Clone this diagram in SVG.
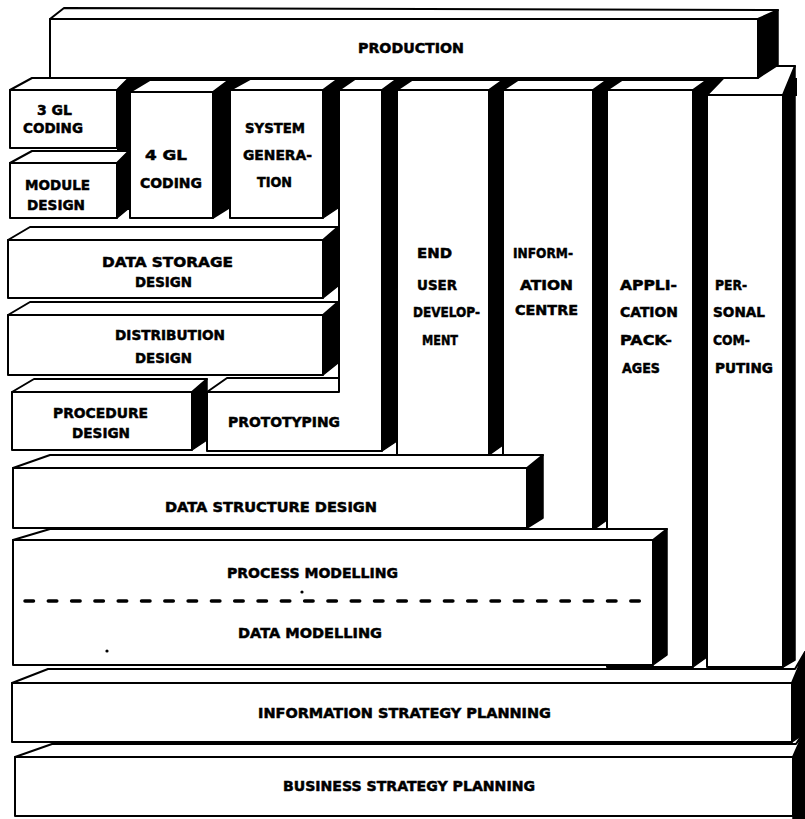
<svg xmlns="http://www.w3.org/2000/svg" width="805" height="819" viewBox="0 0 805 819">
  <style>
    .face { fill: #fff; stroke: #000; stroke-width: 2; stroke-linejoin: round; }
    .side { fill: #000; stroke: #000; stroke-width: 1.5; stroke-linejoin: round; }
    .gap { fill: #000; }
    .lbl { font-family: "DejaVu Sans", "Liberation Sans", sans-serif; font-weight: bold; font-size: 14px; fill: #000; stroke: #000; stroke-width: 0.5; }
    .divider { fill: none; stroke: #000; stroke-width: 3.5; stroke-linecap: round; stroke-dasharray: 8.5 14.8; }
  </style>
  <rect width="805" height="819" fill="#fff"/>

  <!-- dark recesses behind the upper row of blocks -->
  <g id="recess">
    <rect class="gap" x="117" y="78" width="680" height="18"/>
    <rect class="gap" x="117" y="78" width="13" height="132"/>
  </g>

  <!-- vertical columns -->
  <g id="end-user-development">
    <polygon class="side" points="489,90 503,80 503,445 489,455"/>
    <polygon class="face" points="397,90 412,80 503,80 489,90"/>
    <rect class="face" x="397" y="90" width="92" height="365"/>
    <text class="lbl" x="417" y="258" textLength="35" lengthAdjust="spacingAndGlyphs">END</text>
    <text class="lbl" x="417" y="290" textLength="40" lengthAdjust="spacingAndGlyphs">USER</text>
    <text class="lbl" x="413" y="317" textLength="67" lengthAdjust="spacingAndGlyphs">DEVELOP-</text>
    <text class="lbl" x="422" y="345" textLength="36" lengthAdjust="spacingAndGlyphs">MENT</text>
  </g>

  <g id="information-centre">
    <polygon class="side" points="593,90 607,80 607,520 593,530"/>
    <polygon class="face" points="503,90 518,80 607,80 593,90"/>
    <rect class="face" x="503" y="90" width="90" height="440"/>
    <text class="lbl" x="513" y="258" textLength="60" lengthAdjust="spacingAndGlyphs">INFORM-</text>
    <text class="lbl" x="520" y="290" textLength="53" lengthAdjust="spacingAndGlyphs">ATION</text>
    <text class="lbl" x="515" y="315" textLength="63" lengthAdjust="spacingAndGlyphs">CENTRE</text>
  </g>

  <g id="application-packages">
    <polygon class="side" points="693,90 707,80 707,657 693,667"/>
    <polygon class="face" points="607,90 622,80 707,80 693,90"/>
    <rect class="face" x="607" y="90" width="86" height="577"/>
    <text class="lbl" x="620" y="290" textLength="57" lengthAdjust="spacingAndGlyphs">APPLI-</text>
    <text class="lbl" x="620" y="317" textLength="58" lengthAdjust="spacingAndGlyphs">CATION</text>
    <text class="lbl" x="620" y="345" textLength="52" lengthAdjust="spacingAndGlyphs">PACK-</text>
    <text class="lbl" x="622" y="373" textLength="38" lengthAdjust="spacingAndGlyphs">AGES</text>
  </g>

  <g id="personal-computing">
    <polygon class="side" points="783,95 795,66 795,660 783,667"/>
    <polygon class="face" points="707,95 735,66 795,66 783,95"/>
    <rect class="face" x="707" y="95" width="76" height="572"/>
    <text class="lbl" x="715" y="290" textLength="32" lengthAdjust="spacingAndGlyphs">PER-</text>
    <text class="lbl" x="713" y="317" textLength="52" lengthAdjust="spacingAndGlyphs">SONAL</text>
    <text class="lbl" x="713" y="345" textLength="37" lengthAdjust="spacingAndGlyphs">COM-</text>
    <text class="lbl" x="715" y="373" textLength="58" lengthAdjust="spacingAndGlyphs">PUTING</text>
  </g>

  <!-- L-shaped prototyping block -->
  <g id="prototyping">
    <polygon class="side" points="382,90 397,79 397,441 382,451"/>
    <polygon class="face" points="339,90 355,79 397,79 382,90"/>
    <polygon class="face" points="207,392 227,378 339,378 339,392"/>
    <polygon class="face" points="339,90 382,90 382,451 207,451 207,392 339,392"/>
    <text class="lbl" x="228" y="427" textLength="112" lengthAdjust="spacingAndGlyphs">PROTOTYPING</text>
  </g>

  <!-- upper left stack -->
  <g id="gl3-coding">
    <polygon class="side" points="117,90 129,78 129,138 117,148"/>
    <polygon class="face" points="10,90 32,78 129,78 117,90"/>
    <rect class="face" x="10" y="90" width="107" height="58"/>
    <text class="lbl" x="37" y="115" textLength="35" lengthAdjust="spacingAndGlyphs">3 GL</text>
    <text class="lbl" x="23" y="133" textLength="60" lengthAdjust="spacingAndGlyphs">CODING</text>
  </g>

  <g id="module-design">
    <polygon class="side" points="117,163 129,151 129,208 117,218"/>
    <polygon class="face" points="10,163 32,151 129,151 117,163"/>
    <rect class="face" x="10" y="163" width="107" height="55"/>
    <text class="lbl" x="25" y="190" textLength="65" lengthAdjust="spacingAndGlyphs">MODULE</text>
    <text class="lbl" x="27" y="210" textLength="58" lengthAdjust="spacingAndGlyphs">DESIGN</text>
  </g>

  <g id="gl4-coding">
    <polygon class="side" points="213,92 229,80 229,208 213,218"/>
    <polygon class="face" points="130,92 150,80 229,80 213,92"/>
    <rect class="face" x="130" y="92" width="83" height="126"/>
    <text class="lbl" x="145" y="160" textLength="42" lengthAdjust="spacingAndGlyphs">4 GL</text>
    <text class="lbl" x="140" y="188" textLength="62" lengthAdjust="spacingAndGlyphs">CODING</text>
  </g>

  <g id="system-generation">
    <polygon class="side" points="323,90 338,79 338,208 323,218"/>
    <polygon class="face" points="230,90 250,79 338,79 323,90"/>
    <rect class="face" x="230" y="90" width="93" height="128"/>
    <text class="lbl" x="245" y="133" textLength="60" lengthAdjust="spacingAndGlyphs">SYSTEM</text>
    <text class="lbl" x="243" y="160" textLength="69" lengthAdjust="spacingAndGlyphs">GENERA-</text>
    <text class="lbl" x="257" y="187" textLength="35" lengthAdjust="spacingAndGlyphs">TION</text>
  </g>

  <g id="data-storage-design">
    <polygon class="side" points="323,240 338,227 338,286 323,298"/>
    <polygon class="face" points="8,240 30,227 338,227 323,240"/>
    <rect class="face" x="8" y="240" width="315" height="58"/>
    <text class="lbl" x="102" y="267" textLength="131" lengthAdjust="spacingAndGlyphs">DATA  STORAGE</text>
    <text class="lbl" x="135" y="287" textLength="57" lengthAdjust="spacingAndGlyphs">DESIGN</text>
  </g>

  <g id="distribution-design">
    <polygon class="side" points="323,315 338,302 338,363 323,375"/>
    <polygon class="face" points="8,315 30,302 338,302 323,315"/>
    <rect class="face" x="8" y="315" width="315" height="60"/>
    <text class="lbl" x="115" y="340" textLength="110" lengthAdjust="spacingAndGlyphs">DISTRIBUTION</text>
    <text class="lbl" x="135" y="363" textLength="57" lengthAdjust="spacingAndGlyphs">DESIGN</text>
  </g>

  <g id="procedure-design">
    <polygon class="side" points="192,392 207,379 207,440 192,450"/>
    <polygon class="face" points="12,392 34,379 207,379 192,392"/>
    <rect class="face" x="12" y="392" width="180" height="58"/>
    <text class="lbl" x="53" y="418" textLength="95" lengthAdjust="spacingAndGlyphs">PROCEDURE</text>
    <text class="lbl" x="72" y="438" textLength="58" lengthAdjust="spacingAndGlyphs">DESIGN</text>
  </g>

  <!-- horizontal layers -->
  <g id="data-structure-design">
    <polygon class="side" points="527,468 543,455 543,518 527,528"/>
    <polygon class="face" points="13,468 50,455 543,455 527,468"/>
    <rect class="face" x="13" y="468" width="514" height="60"/>
    <text class="lbl" x="165" y="512" textLength="212" lengthAdjust="spacingAndGlyphs">DATA STRUCTURE DESIGN</text>
  </g>

  <g id="process-data-modelling">
    <polygon class="side" points="653,540 667,529 667,655 653,665"/>
    <polygon class="face" points="13,540 50,529 667,529 653,540"/>
    <rect class="face" x="13" y="540" width="640" height="125"/>
    <text class="lbl" x="227" y="578" textLength="171" lengthAdjust="spacingAndGlyphs">PROCESS MODELLING</text>
    <line class="divider" x1="25" y1="601" x2="645" y2="601"/>
    <circle cx="302" cy="592" r="1.6" fill="#000"/>
    <circle cx="107" cy="651" r="1.6" fill="#000"/>
    <text class="lbl" x="238" y="638" textLength="144" lengthAdjust="spacingAndGlyphs">DATA MODELLING</text>
  </g>

  <g id="information-strategy-planning">
    <polygon class="side" points="792,683 805,652 805,733 792,742"/>
    <polygon class="face" points="12,683 48,669 795,669 805,652 792,683"/>
    <rect class="face" x="12" y="683" width="780" height="59"/>
    <text class="lbl" x="258" y="718" textLength="293" lengthAdjust="spacingAndGlyphs">INFORMATION STRATEGY PLANNING</text>
  </g>

  <g id="business-strategy-planning">
    <polygon class="side" points="793,757 805,730 805,819 793,819"/>
    <polygon class="face" points="15,757 52,744 796,744 805,730 793,757"/>
    <rect class="face" x="15" y="757" width="778" height="59"/>
    <text class="lbl" x="283" y="791" textLength="252" lengthAdjust="spacingAndGlyphs">BUSINESS STRATEGY PLANNING</text>
  </g>

  <!-- top layer -->
  <g id="production">
    <polygon class="side" points="758,19 778,10 778,65 758,78"/>
    <polygon class="face" points="50,19 64,8 778,10 758,19"/>
    <rect class="face" x="50" y="19" width="708" height="59"/>
    <text class="lbl" x="358" y="53" textLength="106" lengthAdjust="spacingAndGlyphs">PRODUCTION</text>
  </g>

  <g id="connectors"/>
</svg>
